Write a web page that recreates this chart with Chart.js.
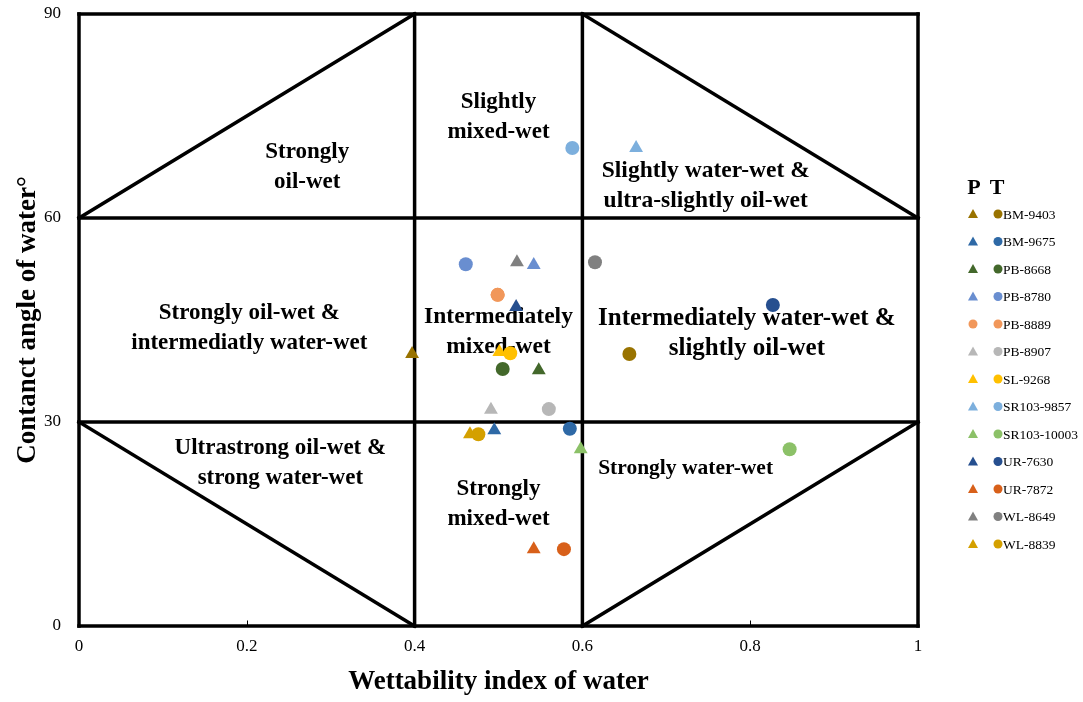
<!DOCTYPE html>
<html>
<head>
<meta charset="utf-8">
<script src="https://cdn.jsdelivr.net/npm/chart.js@4"></script>
<style>
  html, body { margin: 0; padding: 0; background: #fff; }
  #wrap { width: 1083px; height: 702px; position: relative; }
</style>
</head>
<body>
<div id="wrap"><canvas id="chart"></canvas></div>
<script>
// amostras (P = triângulo, T = círculo)
const samples = ['BM-9403', 'BM-9675', 'PB-8668', 'PB-8780', 'PB-8889', 'PB-8907', 'SL-9268',
  'SR103-9857', 'SR103-10003', 'UR-7630', 'UR-7872', 'WL-8649', 'WL-8839'];
const colors = ['#997300', '#2e69a6', '#43682b', '#698ed0', '#f1975a', '#b7b7b7', '#ffc000',
  '#7cafdd', '#8cc168', '#264f8f', '#d8601a', '#808080', '#d4a000'];
const pShape = ['triangle', 'triangle', 'triangle', 'triangle', 'circle', 'triangle', 'triangle',
  'triangle', 'triangle', 'triangle', 'triangle', 'triangle', 'triangle'];

const pIndex = [0.397, 0.495, 0.548, 0.542, 0.499, 0.491, 0.501, 0.664, 0.598, 0.521, 0.542, 0.522, 0.466];
const pAngle = [40.0, 28.8, 37.6, 53.1, 48.7, 31.8, 40.3, 70.3, 26.0, 46.9, 11.3, 53.5, 28.2];
const tIndex = [0.656, 0.585, 0.505, 0.461, 0.499, 0.560, 0.514, 0.588, 0.847, 0.827, 0.578, 0.615, 0.476];
const tAngle = [40.0, 29.0, 37.8, 53.2, 48.7, 31.9, 40.1, 70.3, 26.0, 47.2, 11.3, 53.5, 28.2];

const xTicks = [0, 0.2, 0.4, 0.6, 0.8, 1];
const yTicks = [0, 30, 60, 90];

// linhas das zonas [x1, y1, x2, y2]
const zoneLines = [
  [0, 0, 1, 0], [1, 0, 1, 90], [1, 90, 0, 90], [0, 90, 0, 0],
  [0, 30, 1, 30], [0, 60, 1, 60], [0.4, 0, 0.4, 90], [0.6, 0, 0.6, 90],
  [0, 60, 0.4, 90], [0.6, 90, 1, 60], [0, 30, 0.4, 0], [0.6, 0, 1, 30]
];

// rótulos das zonas [x, y, linhas, tamanho]
const zoneLabels = [
  [0.272, 67.5, ['Strongly', 'oil-wet'], 23],
  [0.5, 74.9, ['Slightly', 'mixed-wet'], 23],
  [0.747, 64.7, ['Slightly water-wet &', 'ultra-slightly oil-wet'], 23.5],
  [0.203, 43.8, ['Strongly oil-wet &', 'intermediatly water-wet'], 23],
  [0.5, 43.2, ['Intermediately', 'mixed-wet'], 23.5],
  [0.796, 43.0, ['Intermediately water-wet &', 'slightly oil-wet'], 25],
  [0.24, 24.0, ['Ultrastrong oil-wet &', 'strong water-wet'], 23],
  [0.5, 17.9, ['Strongly', 'mixed-wet'], 23],
  [0.723, 23.1, ['Strongly water-wet'], 21.5]
];

const SERIF = '"Liberation Serif", "Times New Roman", serif';

const datasets = [];
samples.forEach((s, i) => {
  datasets.push({
    label: s + ' P',
    data: [{ x: pIndex[i], y: pAngle[i] }],
    pointStyle: pShape[i],
    pointRadius: pShape[i] === 'triangle' ? 8 : 7,
    backgroundColor: colors[i],
    borderColor: colors[i],
    borderWidth: 0,
    clip: false
  });
  datasets.push({
    label: s + ' T',
    data: [{ x: tIndex[i], y: tAngle[i] }],
    pointStyle: 'circle',
    pointRadius: 7,
    backgroundColor: colors[i],
    borderColor: colors[i],
    borderWidth: 0,
    clip: false
  });
});

const zonas = {
  id: 'zonas',
  beforeDatasetsDraw(chart) {
    const { ctx, scales: { x, y } } = chart;
    ctx.save();
    ctx.strokeStyle = '#000';
    ctx.lineWidth = 3.5;
    ctx.lineCap = 'square';
    zoneLines.forEach(l => {
      ctx.beginPath();
      ctx.moveTo(x.getPixelForValue(l[0]), y.getPixelForValue(l[1]));
      ctx.lineTo(x.getPixelForValue(l[2]), y.getPixelForValue(l[3]));
      ctx.stroke();
    });
    // pequenos traços no eixo x
    ctx.lineWidth = 1;
    [0.2, 0.8].forEach(v => {
      const px = Math.round(x.getPixelForValue(v)) + 0.5;
      ctx.beginPath();
      ctx.moveTo(px, y.getPixelForValue(0));
      ctx.lineTo(px, y.getPixelForValue(0) - 5);
      ctx.stroke();
    });
    ctx.fillStyle = '#000';
    ctx.textAlign = 'center';
    ctx.textBaseline = 'middle';
    zoneLabels.forEach(z => {
      ctx.font = 'bold ' + z[3] + 'px ' + SERIF;
      const cx = x.getPixelForValue(z[0]);
      const cy = y.getPixelForValue(z[1]);
      const n = z[2].length;
      z[2].forEach((t, k) => ctx.fillText(t, cx, cy + (k - (n - 1) / 2) * 30));
    });
    ctx.restore();
  }
};

const legenda = {
  id: 'legenda',
  afterDraw(chart) {
    const ctx = chart.ctx;
    ctx.save();
    ctx.fillStyle = '#000';
    ctx.font = 'bold 22px ' + SERIF;
    ctx.textAlign = 'center';
    ctx.textBaseline = 'middle';
    ctx.fillText('P', 974, 188);
    ctx.fillText('T', 997, 188);
    ctx.font = '13.5px ' + SERIF;
    ctx.textAlign = 'left';
    samples.forEach((s, i) => {
      const cy = 214 + i * 27.5;
      ctx.fillStyle = colors[i];
      if (pShape[i] === 'triangle') {
        ctx.beginPath();
        ctx.moveTo(973, cy - 5);
        ctx.lineTo(978, cy + 4);
        ctx.lineTo(968, cy + 4);
        ctx.closePath();
        ctx.fill();
      } else {
        ctx.beginPath();
        ctx.arc(973, cy, 4.5, 0, Math.PI * 2);
        ctx.fill();
      }
      ctx.beginPath();
      ctx.arc(998, cy, 4.5, 0, Math.PI * 2);
      ctx.fill();
      ctx.fillStyle = '#000';
      ctx.fillText(s, 1003, cy + 1);
    });
    ctx.restore();
  }
};

new Chart(document.getElementById('chart'), {
  type: 'scatter',
  data: { datasets },
  options: {
    responsive: true,
    maintainAspectRatio: false,
    animation: false,
    layout: { padding: { top: 14, right: 165, bottom: 0, left: 0 } },
    plugins: { legend: { display: false }, tooltip: { enabled: false } },
    scales: {
      x: {
        type: 'linear',
        min: 0, max: 1,
        afterBuildTicks: s => { s.ticks = xTicks.map(v => ({ value: v })); },
        afterFit: s => { s.height = 76; s.paddingLeft = 0; s.paddingRight = 0; },
        grid: { display: false, drawTicks: false },
        border: { display: false },
        ticks: { color: '#000', padding: 10, font: { family: SERIF, size: 17 }, callback: v => String(v) },
        title: {
          display: true, text: 'Wettability index of water', color: '#000',
          padding: { top: 2 }, font: { family: SERIF, size: 27, weight: 'bold' }
        }
      },
      y: {
        type: 'linear',
        min: 0, max: 90,
        afterBuildTicks: s => { s.ticks = yTicks.map(v => ({ value: v })); },
        afterFit: s => { s.width = 79; s.paddingTop = 0; s.paddingBottom = 0; },
        grid: { display: false, drawTicks: false },
        border: { display: false },
        ticks: { color: '#000', padding: 18, font: { family: SERIF, size: 17 } },
        title: {
          display: true, text: 'Contanct angle of water°', color: '#000',
          padding: { top: 12, bottom: 0 }, font: { family: SERIF, size: 27, weight: 'bold' }
        }
      }
    }
  },
  plugins: [zonas, legenda]
});
</script>
</body>
</html>
